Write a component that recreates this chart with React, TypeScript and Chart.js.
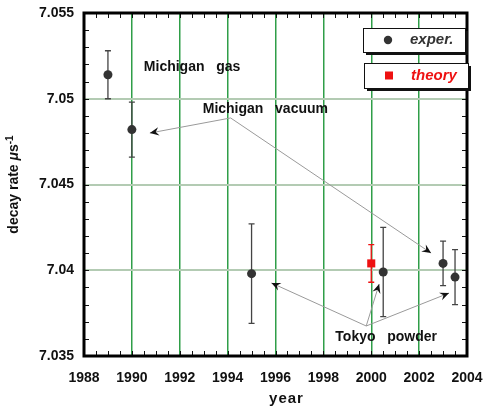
import React, { useEffect, useRef } from 'react';
import { Chart, registerables } from 'chart.js';

Chart.register(...registerables);

// ---- data ----
const expYears = [1989, 1990, 1995, 2000.5, 2003, 2003.5];
const expValues = [7.0514, 7.0482, 7.0398, 7.0399, 7.0404, 7.0396];
const expErrors = [0.0014, 0.0016, 0.0029, 0.0026, 0.0013, 0.0016];

const theoryYears = [2000];
const theoryValues = [7.0404];
const theoryErrors = [0.0011];

const xTickValues = [1988, 1990, 1992, 1994, 1996, 1998, 2000, 2002, 2004];
const yTickValues = [7.035, 7.04, 7.045, 7.05, 7.055];
const yTickLabels = ['7.035', '7.04', '7.045', '7.05', '7.055'];

const xMin = 1988;
const xMax = 2004;
const yMin = 7.035;
const yMax = 7.055;

// annotation texts (anchored in data coordinates)
const noteTexts = ['Michigan   gas', 'Michigan   vacuum', 'Tokyo   powder'];
const noteX = [1990.5, 1992.96, 1998.5];
const noteY = [7.05185, 7.0494, 7.0361];

// arrows: from -> to, data coordinates
const arrowFromX = [1994.125, 1994.125, 1999.79, 1999.79, 1999.79];
const arrowFromY = [7.04888, 7.04888, 7.03675, 7.03675, 7.03675];
const arrowToX = [1990.75, 2002.5, 1995.83, 2000.33, 2003.25];
const arrowToY = [7.048, 7.041, 7.03926, 7.0392, 7.03867];

const FONT = '"Liberation Sans", Arial, Helvetica, sans-serif';
const EXP_COLOR = '#333333';
const THEORY_COLOR = '#ee1111';
const GRID_GREEN = '#2f9e48';

function drawArrow(ctx: CanvasRenderingContext2D, x1: number, y1: number, x2: number, y2: number) {
  ctx.save();
  ctx.strokeStyle = '#9a9a9a';
  ctx.lineWidth = 1;
  ctx.beginPath();
  ctx.moveTo(x1, y1);
  ctx.lineTo(x2, y2);
  ctx.stroke();
  const ang = Math.atan2(y2 - y1, x2 - x1);
  const len = 10;
  const spread = 0.42;
  const notch = 6;
  ctx.fillStyle = '#111';
  ctx.beginPath();
  ctx.moveTo(x2, y2);
  ctx.lineTo(x2 - len * Math.cos(ang - spread), y2 - len * Math.sin(ang - spread));
  ctx.lineTo(x2 - notch * Math.cos(ang), y2 - notch * Math.sin(ang));
  ctx.lineTo(x2 - len * Math.cos(ang + spread), y2 - len * Math.sin(ang + spread));
  ctx.closePath();
  ctx.fill();
  ctx.restore();
}

const customPlugin = {
  id: 'custom',
  beforeDatasetsDraw(chart: any) {
    const ctx: CanvasRenderingContext2D = chart.ctx;
    const xs = chart.scales.x;
    const ys = chart.scales.y;
    const drawErr = (xv: number[], yv: number[], ev: number[], color: string) => {
      ctx.save();
      ctx.strokeStyle = color;
      ctx.lineWidth = 1.3;
      for (let i = 0; i < xv.length; i++) {
        const px = xs.getPixelForValue(xv[i]);
        const top = ys.getPixelForValue(yv[i] + ev[i]);
        const bot = ys.getPixelForValue(yv[i] - ev[i]);
        ctx.beginPath();
        ctx.moveTo(px, top);
        ctx.lineTo(px, bot);
        ctx.moveTo(px - 3, top);
        ctx.lineTo(px + 3, top);
        ctx.moveTo(px - 3, bot);
        ctx.lineTo(px + 3, bot);
        ctx.stroke();
      }
      ctx.restore();
    };
    drawErr(expYears, expValues, expErrors, '#444');
    drawErr(theoryYears, theoryValues, theoryErrors, THEORY_COLOR);

    // annotation arrows
    for (let i = 0; i < arrowFromX.length; i++) {
      drawArrow(
        ctx,
        xs.getPixelForValue(arrowFromX[i]),
        ys.getPixelForValue(arrowFromY[i]),
        xs.getPixelForValue(arrowToX[i]),
        ys.getPixelForValue(arrowToY[i])
      );
    }
    // annotation texts
    ctx.save();
    ctx.fillStyle = '#111';
    ctx.font = `bold 14px ${FONT}`;
    ctx.textAlign = 'left';
    ctx.textBaseline = 'middle';
    for (let i = 0; i < noteTexts.length; i++) {
      ctx.fillText(noteTexts[i], xs.getPixelForValue(noteX[i]), ys.getPixelForValue(noteY[i]));
    }
    ctx.restore();
  },
  afterDatasetsDraw(chart: any) {
    const ctx: CanvasRenderingContext2D = chart.ctx;
    const xs = chart.scales.x;
    const ys = chart.scales.y;
    const a = chart.chartArea;
    ctx.save();
    // minor ticks
    ctx.strokeStyle = '#111';
    ctx.lineWidth = 1;
    ctx.beginPath();
    for (let v = xMin + 0.5; v < xMax - 0.01; v += 0.5) {
      const px = Math.round(xs.getPixelForValue(v)) + 0.5;
      ctx.moveTo(px, a.bottom);
      ctx.lineTo(px, a.bottom - 5);
      ctx.moveTo(px, a.top);
      ctx.lineTo(px, a.top + 5);
    }
    for (let k = 1; k < 20; k++) {
      const v = yMin + k * 0.001;
      const py = Math.round(ys.getPixelForValue(v)) + 0.5;
      ctx.moveTo(a.left, py);
      ctx.lineTo(a.left + 5, py);
      ctx.moveTo(a.right, py);
      ctx.lineTo(a.right - 5, py);
    }
    ctx.stroke();
    // frame
    ctx.lineWidth = 3;
    ctx.strokeStyle = '#000';
    ctx.strokeRect(a.left, a.top, a.right - a.left, a.bottom - a.top);
    ctx.restore();
  },
  afterDraw(chart: any) {
    const ctx: CanvasRenderingContext2D = chart.ctx;
    const a = chart.chartArea;
    // legend boxes
    const boxes = [
      { x: a.right - 104, y: a.top + 15, w: 102, h: 24, label: chart.data.datasets[0].label, color: EXP_COLOR, shape: 'circle' },
      { x: a.right - 103, y: a.top + 50, w: 104, h: 25, label: chart.data.datasets[1].label, color: THEORY_COLOR, shape: 'rect' },
    ];
    ctx.save();
    for (const b of boxes) {
      ctx.fillStyle = '#111';
      ctx.fillRect(b.x + 3, b.y + 3, b.w, b.h);
      ctx.fillStyle = '#fff';
      ctx.fillRect(b.x, b.y, b.w, b.h);
      ctx.strokeStyle = '#111';
      ctx.lineWidth = 1;
      ctx.strokeRect(b.x + 0.5, b.y + 0.5, b.w, b.h);
      const cy = b.y + b.h / 2;
      ctx.fillStyle = b.color;
      if (b.shape === 'circle') {
        ctx.beginPath();
        ctx.arc(b.x + 25, cy, 4.2, 0, Math.PI * 2);
        ctx.fill();
      } else {
        ctx.fillRect(b.x + 21, cy - 4, 8, 8);
      }
      ctx.font = `italic bold 15px ${FONT}`;
      ctx.textAlign = 'left';
      ctx.textBaseline = 'middle';
      ctx.fillText(b.label, b.x + 47, cy);
    }
    ctx.restore();

    // y title with mixed formatting
    ctx.save();
    const cx = 14;
    const cyT = (a.top + a.bottom) / 2;
    ctx.translate(cx, cyT);
    ctx.rotate(-Math.PI / 2);
    ctx.fillStyle = '#111';
    ctx.textBaseline = 'middle';
    ctx.textAlign = 'left';
    const segs = [
      { t: 'decay rate ', f: `bold 14px ${FONT}`, dy: 0 },
      { t: 'μ', f: `italic bold 14px ${FONT}`, dy: 0 },
      { t: 's', f: `bold 14px ${FONT}`, dy: 0 },
      { t: '-1', f: `bold 10px ${FONT}`, dy: -4 },
    ];
    let total = 0;
    for (const s of segs) {
      ctx.font = s.f;
      total += ctx.measureText(s.t).width;
    }
    let x = -total / 2;
    for (const s of segs) {
      ctx.font = s.f;
      ctx.fillText(s.t, x, s.dy);
      x += ctx.measureText(s.t).width;
    }
    ctx.restore();

    // x title
    ctx.save();
    ctx.fillStyle = '#111';
    ctx.font = `bold 15px ${FONT}`;
    (ctx as any).letterSpacing = '1px';
    ctx.textAlign = 'center';
    ctx.textBaseline = 'middle';
    ctx.fillText('year', (a.left + a.right) / 2 + 11, 399);
    ctx.restore();
  },
};

export default function App() {
  const ref = useRef<HTMLCanvasElement>(null);
  useEffect(() => {
    const canvas = ref.current!;
    const chart = new Chart(canvas, {
      type: 'scatter',
      data: {
        datasets: [
          {
            label: 'exper.',
            data: expYears.map((x, i) => ({ x, y: expValues[i] })),
            pointStyle: 'circle',
            pointRadius: 4.5,
            backgroundColor: EXP_COLOR,
            borderColor: EXP_COLOR,
            borderWidth: 0,
          },
          {
            label: 'theory',
            data: theoryYears.map((x, i) => ({ x, y: theoryValues[i] })),
            pointStyle: 'rect',
            pointRadius: 5.7,
            backgroundColor: THEORY_COLOR,
            borderColor: THEORY_COLOR,
            borderWidth: 0,
          },
        ],
      },
      options: {
        animation: false,
        responsive: false,
        devicePixelRatio: 1,
        layout: { padding: { top: 13, right: 16, left: 0, bottom: 0 } },
        plugins: { legend: { display: false }, tooltip: { enabled: false } },
        scales: {
          x: {
            type: 'linear',
            min: xMin,
            max: xMax,
            afterBuildTicks: (s: any) => {
              s.ticks = xTickValues.map((v) => ({ value: v }));
            },
            afterFit: (s: any) => {
              s.height = 61;
              s.paddingLeft = 0;
              s.paddingRight = 0;
            },
            border: { display: false },
            grid: {
              drawTicks: false,
              lineWidth: 1.5,
              color: (c: any) => {
                const v = c.tick ? c.tick.value : NaN;
                return v > xMin && v < xMax ? GRID_GREEN : 'rgba(0,0,0,0)';
              },
            },
            ticks: {
              padding: 14,
              color: '#111',
              maxRotation: 0,
              autoSkip: false,
              font: { family: FONT, size: 14, weight: 'bold' },
              callback: (v: any) => String(v),
            },
          },
          y: {
            type: 'linear',
            min: yMin,
            max: yMax,
            afterBuildTicks: (s: any) => {
              s.ticks = yTickValues.map((v) => ({ value: v }));
            },
            afterFit: (s: any) => {
              s.width = 84;
              s.paddingTop = 0;
              s.paddingBottom = 0;
            },
            border: { display: false },
            grid: {
              drawTicks: false,
              lineWidth: 2,
              color: (c: any) => {
                const v = c.tick ? c.tick.value : NaN;
                return v > yMin + 1e-6 && v < yMax - 1e-6 ? '#b3cbb3' : 'rgba(0,0,0,0)';
              },
            },
            ticks: {
              padding: 10,
              color: '#111',
              autoSkip: false,
              font: { family: FONT, size: 14, weight: 'bold' },
              callback: (v: any) => {
                const idx = yTickValues.findIndex((t) => Math.abs(t - v) < 1e-6);
                return idx >= 0 ? yTickLabels[idx] : '';
              },
            },
          },
        },
      } as any,
      plugins: [customPlugin],
    });
    return () => chart.destroy();
  }, []);

  return (
    <div style={{ position: 'absolute', left: 0, top: 0, width: 483, height: 417, background: '#fff' }}>
      <canvas ref={ref} width={483} height={417} style={{ width: 483, height: 417 }} />
    </div>
  );
}
